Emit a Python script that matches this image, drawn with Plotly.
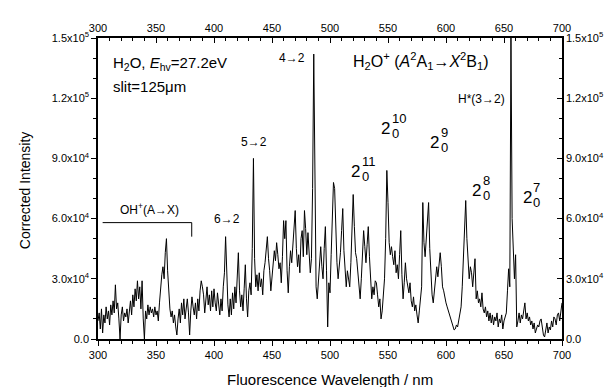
import plotly.graph_objects as go

# ---------------- data ----------------
wavelength_start = 300
intensity_1e4 = [
    # 300-339
    0.9, 1.3, 0.5, 1.5, 0.3, 1.2, 0.8, 1.6, 1.0, 1.4,
    0.7, 1.7, 1.2, 1.9, 1.3, 2.7, 1.5, 1.8, 1.0, 0.0,
    1.2, 1.6, 0.9, 1.3, 1.1, 1.5, 0.8, 1.4, 1.9, 1.2,
    2.2, 1.6, 2.5, 1.9, 2.9, 2.0, 2.6, 1.5, 2.9, 1.0,
    # 340-379
    0.0, 1.4, 1.0, 1.7, 1.2, 1.6, 1.3, 1.5, 1.1, 1.6,
    1.2, 1.4, 0.9, 1.8, 2.6, 3.2, 3.6, 3.0, 4.3, 5.0,
    3.4, 2.2, 1.5, 1.1, 1.4, 0.8, 1.2, 0.6, 0.2, 1.0,
    1.5, 0.8, 1.8, 1.2, 2.0, 1.0, 1.6, 2.0, 1.3, 0.2,
    # 380-419
    1.4, 2.1, 1.6, 1.2, 1.8, 1.0, 2.0, 1.4, 2.4, 2.9,
    2.6, 2.2, 1.3, 2.1, 2.6, 1.7, 2.2, 1.4, 2.4, 1.6,
    2.5, 1.8, 1.4, 2.3, 1.6, 1.2, 2.0, 1.4, 2.6, 3.3,
    5.1, 2.6, 1.7, 1.1, 2.0, 1.2, 2.3, 1.5, 2.6, 1.8,
    # 420-459
    3.0, 4.3, 2.4, 1.6, 2.2, 1.4, 2.5, 3.7, 2.0, 1.1,
    2.4, 2.8, 2.2, 4.5, 9.0, 4.0, 2.6, 3.2, 2.4, 3.3,
    2.6, 3.0, 2.2, 3.4, 3.8, 4.6, 5.1, 4.0, 3.4, 2.4,
    3.2, 3.8, 4.4, 3.9, 4.8, 4.2, 3.5, 3.8, 2.8, 4.1,
    # 460-499
    5.9, 5.0, 5.9, 3.4, 2.3, 3.6, 4.4, 3.8, 4.9, 5.4,
    6.4, 4.5, 3.6, 4.2, 3.3, 5.0, 5.4, 4.1, 6.4, 5.5,
    4.2, 5.3, 4.4, 3.3, 4.0, 7.5, 14.2, 6.0, 2.6, 2.0,
    3.0, 3.8, 4.6, 3.6, 3.0, 4.5, 5.6, 3.4, 0.6, 2.8,
    # 500-539
    2.3, 4.2, 6.5, 7.8, 7.5, 5.5, 3.8, 3.0, 3.6, 4.3,
    5.4, 6.5, 4.4, 3.2, 2.6, 3.4, 3.0, 2.6, 3.8, 5.2,
    7.2, 5.6, 4.3, 4.0, 3.3, 2.5, 2.0, 3.0, 4.2, 5.4,
    4.6, 3.8, 4.7, 5.6, 4.1, 2.8, 2.0, 2.6, 2.2, 2.9,
    # 540-579
    2.8, 2.2, 1.6, 2.0, 1.0, 1.4, 2.2, 3.0, 5.0, 8.4,
    6.8, 4.8, 4.2, 4.6, 4.1, 3.7, 4.4, 3.3, 3.7, 3.0,
    4.2, 5.4, 3.2, 2.0, 2.8, 3.8, 3.0, 2.6, 2.3, 2.8,
    1.9, 1.6, 2.1, 1.4, 1.7, 1.2, 0.8, 1.4, 2.2, 2.6,
    # 580-619
    6.8, 4.8, 4.1, 5.0, 5.8, 6.8, 4.5, 3.0, 2.2, 1.8,
    2.4, 3.3, 3.6, 3.1, 3.8, 4.3, 3.6, 2.6, 2.4, 2.0,
    1.8, 1.6, 1.4, 1.3, 1.1, 0.8, 0.6, 0.45, 0.5, 0.7,
    0.6, 0.9, 1.2, 1.6, 2.6, 4.0, 5.4, 6.9, 5.0, 3.8,
    # 620-659
    3.0, 3.6, 3.3, 2.6, 3.2, 4.0, 2.0, 2.4, 1.8, 2.0,
    1.6, 2.3, 1.5, 1.3, 1.6, 1.1, 1.4, 0.9, 1.3, 0.8,
    1.2, 0.7, 1.1, 0.9, 1.3, 0.6, 1.0, 0.8, 1.2, 0.5,
    0.9, 1.1, 1.3, 2.4, 3.5, 2.6, 15.0, 6.0, 4.3, 3.0,
    # 660-700
    4.2, 0.6, 0.9, 1.3, 0.8, 1.2, 1.0, 1.4, 1.8, 1.0,
    1.3, 0.9, 1.1, 0.7, 0.9, 0.5, 0.8, 0.3, 0.45, 0.7,
    0.6, 0.9, 1.0, 0.5, 0.2, 0.1, 0.4, 0.8, 0.3, 0.6,
    0.45, 0.9, 0.6, 1.1, 1.0, 0.7, 1.2, 1.3, 0.9, 1.4,
    1.8,
]
wavelength = [wavelength_start + i for i in range(len(intensity_1e4))]
intensity = [v * 1e4 for v in intensity_1e4]

x_tickvals = [300, 350, 400, 450, 500, 550, 600, 650, 700]
y_tickvals = [0, 3e4, 6e4, 9e4, 1.2e5, 1.5e5]
y_ticktext = ["0.0", "3.0x10<sup>4</sup>", "6.0x10<sup>4</sup>", "9.0x10<sup>4</sup>",
              "1.2x10<sup>5</sup>", "1.5x10<sup>5</sup>"]

# OH+ bracket (data units)
oh_bracket_x = [304, 380.8, 380.8]
oh_bracket_y = [5.8e4, 5.8e4, 5.1e4]

FONT = "Arial, Liberation Sans, sans-serif"

fig = go.Figure()
fig.add_trace(go.Scatter(x=wavelength, y=intensity, mode="lines",
                         line=dict(color="black", width=1), showlegend=False,
                         hoverinfo="skip"))
# invisible trace for secondary axes
fig.add_trace(go.Scatter(x=[300, 700], y=[0, 1.5e5], xaxis="x2", yaxis="y2",
                         mode="markers", marker=dict(opacity=0), showlegend=False,
                         hoverinfo="skip"))
# bracket
fig.add_trace(go.Scatter(x=oh_bracket_x, y=oh_bracket_y, mode="lines",
                         line=dict(color="black", width=1), showlegend=False,
                         hoverinfo="skip"))

axis_common = dict(showgrid=False, zeroline=False, showline=True, linecolor="black",
                   linewidth=1.5, tickcolor="black", automargin=False,
                   tickfont=dict(family=FONT, size=11, color="black"))

fig.update_layout(
    width=612, height=387, autosize=False,
    margin=dict(l=98, r=50, t=38, b=48, autoexpand=False),
    paper_bgcolor="white", plot_bgcolor="white",
    font=dict(family=FONT, color="black"),
    xaxis=dict(range=[300, 700], tickvals=x_tickvals, ticks="outside", ticklen=5, tickwidth=1,
               minor=dict(dtick=10, tick0=300, ticks="outside", ticklen=3, tickcolor="black"),
               **axis_common),
    xaxis2=dict(range=[300, 700], overlaying="x", side="top", tickvals=x_tickvals,
                ticks="inside", ticklen=5, tickwidth=1,
                minor=dict(dtick=10, tick0=300, ticks="inside", ticklen=3, tickcolor="black"),
                **axis_common),
    yaxis=dict(range=[0, 1.5e5], tickvals=y_tickvals, ticktext=y_ticktext, ticks="outside",
               ticklen=5, tickwidth=1,
               minor=dict(dtick=1e4, tick0=0, ticks="outside", ticklen=3, tickcolor="black"),
               **axis_common),
    yaxis2=dict(range=[0, 1.5e5], overlaying="y", side="right", tickvals=y_tickvals,
                ticktext=y_ticktext, ticks="inside", ticklen=5, tickwidth=1,
                minor=dict(dtick=1e4, tick0=0, ticks="inside", ticklen=3, tickcolor="black"),
                **axis_common),
)

ann = []
def add(text, x, y, size, xanchor="center"):
    ann.append(dict(text=text, x=x, y=y, xref="x", yref="y", showarrow=False,
                    xanchor=xanchor, yanchor="middle", font=dict(family=FONT, size=size, color="black")))

add("H<sub>2</sub>O, <i>E</i><sub>hv</sub>=27.2eV", 311, 1.375e5, 15, "left")
add("slit=125\u03bcm", 311, 1.256e5, 15, "left")
add("4\u21922", 467, 1.40e5, 12)
add("5\u21922", 434.5, 9.8e4, 12)
add("6\u21922", 411, 5.98e4, 12)
add("OH<sup>+</sup>(A\u2192X)", 344, 6.48e4, 12)
add("H<sub>2</sub>O<sup>+</sup> (<i>A</i><sup>2</sup>A<sub>1</sub>\u2192<i>X</i><sup>2</sup>B<sub>1</sub>)",
    578.4, 1.385e5, 16)
add("H*(3\u21922)", 631, 1.196e5, 12)

# vibrational progression labels 2_0^n
prog = [  # (x of "2", y of "2", superscript)
    (547.8, 1.051e5, "10"),
    (590.5, 9.77e4, "9"),
    (522.0, 8.34e4, "11"),
    (626.3, 7.42e4, "8"),
    (670.0, 7.03e4, "7"),
]
for px, py, sup in prog:
    add("2", px, py, 17)
    add(sup, px + 3.5, py + 0.5e4, 13, "left")
    add("0", px + 3.5, py - 0.25e4, 13, "left")

# axis titles
ann.append(dict(text="Fluorescence Wavelength / nm", x=0.5, y=-0.136, xref="paper", yref="paper",
                showarrow=False, xanchor="center", yanchor="middle",
                font=dict(family=FONT, size=15, color="black")))
ann.append(dict(text="Corrected Intensity", x=-0.157, y=0.495, xref="paper", yref="paper",
                showarrow=False, xanchor="center", yanchor="middle", textangle=-90,
                font=dict(family=FONT, size=14, color="black")))

fig.update_layout(annotations=ann)
fig.write_html("out.html", config={"displayModeBar": False},
               post_script="document.body.style.margin='0';document.body.style.overflow='hidden';")
